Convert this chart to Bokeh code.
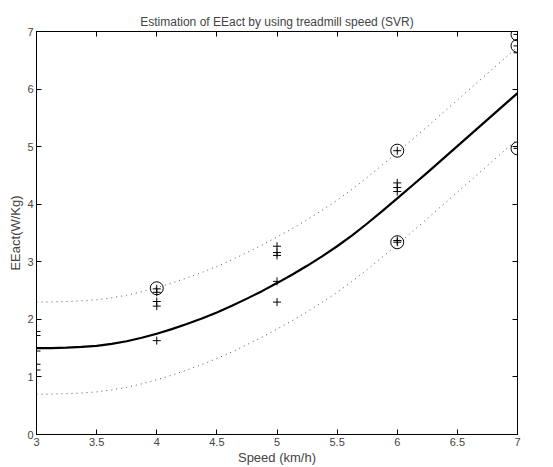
from bokeh.plotting import figure
from bokeh.models import Range1d, LinearAxis, FixedTicker
from bokeh.embed import file_html
from bokeh.resources import INLINE

# Measured samples (speed km/h, EEact W/Kg)
speed = [3, 3, 3, 3, 3,
         4, 4, 4, 4, 4,
         5, 5, 5, 5, 5,
         6, 6, 6, 6, 6, 6,
         7, 7, 7, 7]
eeact = [1.79, 1.72, 1.45, 1.22, 1.12,
         2.53, 2.47, 2.31, 2.23, 1.63,
         3.27, 3.16, 3.11, 2.66, 2.30,
         4.93, 4.37, 4.29, 4.22, 3.37, 3.34,
         6.95, 6.75, 6.63, 4.97]

# Support vectors (circled)
sv_speed = [4, 6, 6, 7, 7, 7]
sv_eeact = [2.54, 4.93, 3.34, 6.95, 6.75, 4.97]

# SVR fit and epsilon tube
curve_x = [3.0, 3.125, 3.25, 3.375, 3.5, 3.625, 3.75, 3.875, 4.0, 4.125, 4.25, 4.375,
           4.5, 4.625, 4.75, 4.875, 5.0, 5.125, 5.25, 5.375, 5.5, 5.625, 5.75, 5.875,
           6.0, 6.125, 6.25, 6.375, 6.5, 6.625, 6.75, 6.875, 7.0]
fit_y = [1.500, 1.502, 1.510, 1.522, 1.540, 1.575, 1.620, 1.680, 1.750, 1.830, 1.920, 2.015,
         2.120, 2.235, 2.360, 2.490, 2.630, 2.775, 2.930, 3.095, 3.270, 3.460, 3.665, 3.880,
         4.100, 4.325, 4.550, 4.780, 5.010, 5.240, 5.470, 5.700, 5.930]
upper_y = [2.300, 2.302, 2.310, 2.322, 2.340, 2.375, 2.420, 2.480, 2.550, 2.630, 2.720, 2.815,
           2.920, 3.035, 3.160, 3.290, 3.430, 3.575, 3.730, 3.895, 4.070, 4.260, 4.465, 4.680,
           4.900, 5.125, 5.350, 5.580, 5.810, 6.040, 6.270, 6.500, 6.730]
lower_y = [0.700, 0.702, 0.710, 0.722, 0.740, 0.775, 0.820, 0.880, 0.950, 1.030, 1.120, 1.215,
           1.320, 1.435, 1.560, 1.690, 1.830, 1.975, 2.130, 2.295, 2.470, 2.660, 2.865, 3.080,
           3.300, 3.525, 3.750, 3.980, 4.210, 4.440, 4.670, 4.900, 5.130]

x_ticks = [3, 3.5, 4, 4.5, 5, 5.5, 6, 6.5, 7]
y_ticks = [0, 1, 2, 3, 4, 5, 6, 7]

FONT = "Liberation Sans"

p = figure(frame_width=481, frame_height=403, output_backend="svg", toolbar_location=None,
           x_range=Range1d(3, 7), y_range=Range1d(0, 7),
           min_border_left=36, min_border_top=31, min_border_right=20, min_border_bottom=20,
           title="Estimation of EEact by using treadmill speed (SVR)")
p.title.align = "center"
p.title.text_font = FONT
p.title.text_font_size = "12px"
p.title.text_font_style = "normal"
p.title.offset = 0
p.title.standoff = 5

p.xgrid.visible = False
p.ygrid.visible = False
p.outline_line_color = "black"
p.background_fill_color = "white"

def style_axis(ax, labels=True):
    ax.axis_line_color = "black"
    ax.axis_line_width = 1
    ax.major_tick_in = 5
    ax.major_tick_out = 0
    ax.minor_tick_line_color = None
    ax.major_tick_line_color = "black"
    ax.major_label_text_font = FONT
    ax.major_label_text_font_size = "11px"
    ax.major_label_standoff = 3
    ax.axis_label_text_font = FONT
    ax.axis_label_text_font_size = "13px"
    ax.axis_label_text_font_style = "normal"
    ax.axis_label_standoff = 1
    if not labels:
        ax.major_label_text_color = None

p.xaxis.ticker = FixedTicker(ticks=x_ticks)
p.yaxis.ticker = FixedTicker(ticks=y_ticks)
p.xaxis.axis_label = "Speed (km/h)"
p.yaxis.axis_label = "EEact(W/Kg)"
style_axis(p.xaxis[0])
style_axis(p.yaxis[0])

top = LinearAxis(ticker=FixedTicker(ticks=x_ticks))
style_axis(top, labels=False)
top.major_label_text_font_size = "0px"
p.add_layout(top, "above")
right = LinearAxis(ticker=FixedTicker(ticks=y_ticks))
style_axis(right, labels=False)
right.major_label_text_font_size = "0px"
p.add_layout(right, "right")

p.line(curve_x, upper_y, line_color="#555555", line_width=1, line_dash="1 4")
p.line(curve_x, lower_y, line_color="#555555", line_width=1, line_dash="1 4")
p.line(curve_x, fit_y, line_color="black", line_width=2.2)

p.scatter(speed, eeact, marker="cross", size=8, line_color="black", line_width=1)
p.scatter(sv_speed, sv_eeact, marker="circle", size=13, fill_color=None, line_color="black", line_width=1)

open("out.html", "w").write(file_html(p, INLINE))
